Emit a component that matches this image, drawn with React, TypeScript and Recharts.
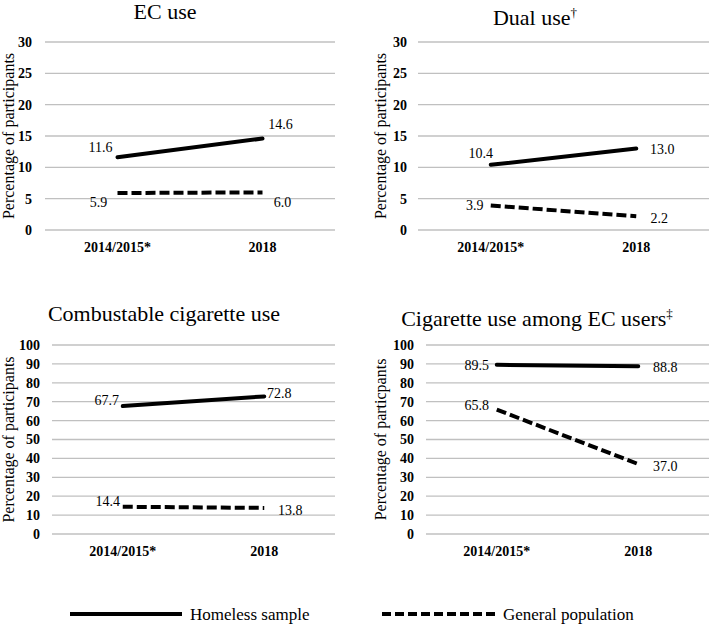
import { CartesianGrid, LabelList, Line, LineChart, XAxis, YAxis } from "recharts"

const FONT = "'Liberation Serif', Tinos, 'Times New Roman', Times, 'DejaVu Serif', serif"

const years = ["2014/2015*", "2018"]

const ecHomeless = [11.6, 14.6]
const ecGeneral = [5.9, 6.0]
const dualHomeless = [10.4, 13.0]
const dualGeneral = [3.9, 2.2]
const cigHomeless = [67.7, 72.8]
const cigGeneral = [14.4, 13.8]
const cigEcHomeless = [89.5, 88.8]
const cigEcGeneral = [65.8, 37.0]

const ticks30 = [0, 5, 10, 15, 20, 25, 30]
const ticks100 = [0, 10, 20, 30, 40, 50, 60, 70, 80, 90, 100]

type Offset = [number, number]

interface PanelProps {
  title: React.ReactNode
  titleX: number
  titleY: number
  yTitle: string
  left: number
  top: number
  width: number
  height: number
  plotLeft: number
  plotRight: number
  plotTop: number
  plotBottom: number
  tickGap: number
  yTitleX: number
  ticks: number[]
  homeless: number[]
  general: number[]
  homelessOffsets: Offset[]
  generalOffsets: Offset[]
}

const makeLabel = (series: number[], offsets: Offset[]) => (props: any) => {
  const { x, y, value } = props
  const i = props.index ?? series.indexOf(Number(value))
  const [dx, dy] = offsets[i] ?? [0, 0]
  return (
    <text
      x={Number(x) + dx}
      y={Number(y) + dy}
      textAnchor="middle"
      dominantBaseline="central"
      fontSize={14}
      fontFamily={FONT}
      fill="#000"
    >
      {Number(value).toFixed(1)}
    </text>
  )
}

function Panel(p: PanelProps) {
  const data = years.map((year, i) => ({
    year,
    homeless: p.homeless[i],
    general: p.general[i],
  }))
  const plotWidth = p.plotRight - p.plotLeft
  const pad = plotWidth / 4
  const xAxisHeight = 30
  const yMax = p.ticks[p.ticks.length - 1]

  return (
    <div style={{ position: "absolute", left: p.left, top: p.top, width: p.width, height: p.height }}>
      <div
        style={{
          position: "absolute",
          left: p.titleX - p.left - 200,
          top: p.titleY - p.top - 13,
          width: 400,
          textAlign: "center",
          fontFamily: FONT,
          fontSize: 22,
          lineHeight: "26px",
          color: "#000",
        }}
      >
        {p.title}
      </div>
      <LineChart
        width={p.width}
        height={p.height}
        data={data}
        style={{ fontFamily: FONT }}
        margin={{
          top: p.plotTop - p.top,
          right: p.left + p.width - p.plotRight,
          bottom: p.top + p.height - p.plotBottom - xAxisHeight,
          left: 0,
        }}
      >
        <CartesianGrid vertical={false} stroke="#c0c0c0" strokeWidth={1.3} />
        <XAxis
          dataKey="year"
          height={xAxisHeight}
          padding={{ left: pad, right: pad }}
          axisLine={false}
          tickLine={false}
          tickSize={0}
          tickMargin={12}
          tick={{ fontSize: 14, fontWeight: "bold", fontFamily: FONT, fill: "#000" }}
        />
        <YAxis
          width={p.plotLeft - p.left}
          domain={[0, yMax]}
          ticks={p.ticks}
          interval={0}
          axisLine={false}
          tickLine={false}
          tickSize={0}
          tickMargin={p.tickGap}
          tick={{ fontSize: 14, fontWeight: "bold", fontFamily: FONT, fill: "#000" }}
          label={{
            value: p.yTitle,
            angle: -90,
            position: "insideLeft",
            offset: p.yTitleX,
            style: { textAnchor: "middle", fontSize: 16, fontFamily: FONT, fill: "#000" },
          }}
        />
        <Line
          dataKey="homeless"
          stroke="#000"
          strokeWidth={4}
          strokeLinecap="round"
          dot={false}
          activeDot={false}
          isAnimationActive={false}
        >
          <LabelList dataKey="homeless" content={makeLabel(p.homeless, p.homelessOffsets)} />
        </Line>
        <Line
          dataKey="general"
          stroke="#000"
          strokeWidth={4}
          strokeDasharray="10 4"
          dot={false}
          activeDot={false}
          isAnimationActive={false}
        >
          <LabelList dataKey="general" content={makeLabel(p.general, p.generalOffsets)} />
        </Line>
      </LineChart>
    </div>
  )
}

export default function App() {
  return (
    <div
      style={{
        position: "absolute",
        left: 0,
        top: 0,
        width: 709,
        height: 624,
        background: "#fff",
        overflow: "hidden",
        fontFamily: FONT,
      }}
    >
      <Panel
        title="EC use"
        titleX={165}
        titleY={12}
        yTitle="Percentage of participants"
        left={0}
        top={0}
        width={354}
        height={290}
        plotLeft={45}
        plotRight={335}
        plotTop={42}
        plotBottom={230}
        tickGap={13}
        yTitleX={8}
        ticks={ticks30}
        homeless={ecHomeless}
        general={ecGeneral}
        homelessOffsets={[[-17, -10], [18, -14]]}
        generalOffsets={[[-19, 9], [20, 10]]}
      />
      <Panel
        title={<>Dual use<sup style={{ fontSize: 13 }}>†</sup></>}
        titleX={535}
        titleY={13}
        yTitle="Percentage of participants"
        left={355}
        top={0}
        width={354}
        height={290}
        plotLeft={418}
        plotRight={709}
        plotTop={42}
        plotBottom={230}
        tickGap={11}
        yTitleX={25}
        ticks={ticks30}
        homeless={dualHomeless}
        general={dualGeneral}
        homelessOffsets={[[-10, -11], [26, 1]]}
        generalOffsets={[[-16, 0], [23, 2]]}
      />
      <Panel
        title="Combustable cigarette use"
        titleX={164}
        titleY={314}
        yTitle="Percentage of participants"
        left={0}
        top={300}
        width={354}
        height={290}
        plotLeft={52}
        plotRight={335}
        plotTop={345}
        plotBottom={534}
        tickGap={12}
        yTitleX={8}
        ticks={ticks100}
        homeless={cigHomeless}
        general={cigGeneral}
        homelessOffsets={[[-16, -6], [15, -3]]}
        generalOffsets={[[-15, -5], [26, 3]]}
      />
      <Panel
        title={<>Cigarette use among EC users<sup style={{ fontSize: 13 }}>‡</sup></>}
        titleX={537}
        titleY={314}
        yTitle="Percentage of particpants"
        left={355}
        top={300}
        width={354}
        height={290}
        plotLeft={426}
        plotRight={709}
        plotTop={345}
        plotBottom={534}
        tickGap={12}
        yTitleX={25}
        ticks={ticks100}
        homeless={cigEcHomeless}
        general={cigEcGeneral}
        homelessOffsets={[[-20, 1], [27, 1]]}
        generalOffsets={[[-20, -4], [27, 2]]}
      />
      <svg
        width={709}
        height={34}
        style={{ position: "absolute", left: 0, top: 597 }}
        fontFamily={FONT}
      >
        <line x1={70} x2={182} y1={17} y2={17} stroke="#000" strokeWidth={4} />
        <text x={190} y={17} dominantBaseline="central" fontSize={17} fill="#000">
          Homeless sample
        </text>
        <line x1={382} x2={497} y1={17} y2={17} stroke="#000" strokeWidth={4} strokeDasharray="9 4" />
        <text x={503} y={17} dominantBaseline="central" fontSize={17} fill="#000">
          General population
        </text>
      </svg>
    </div>
  )
}
